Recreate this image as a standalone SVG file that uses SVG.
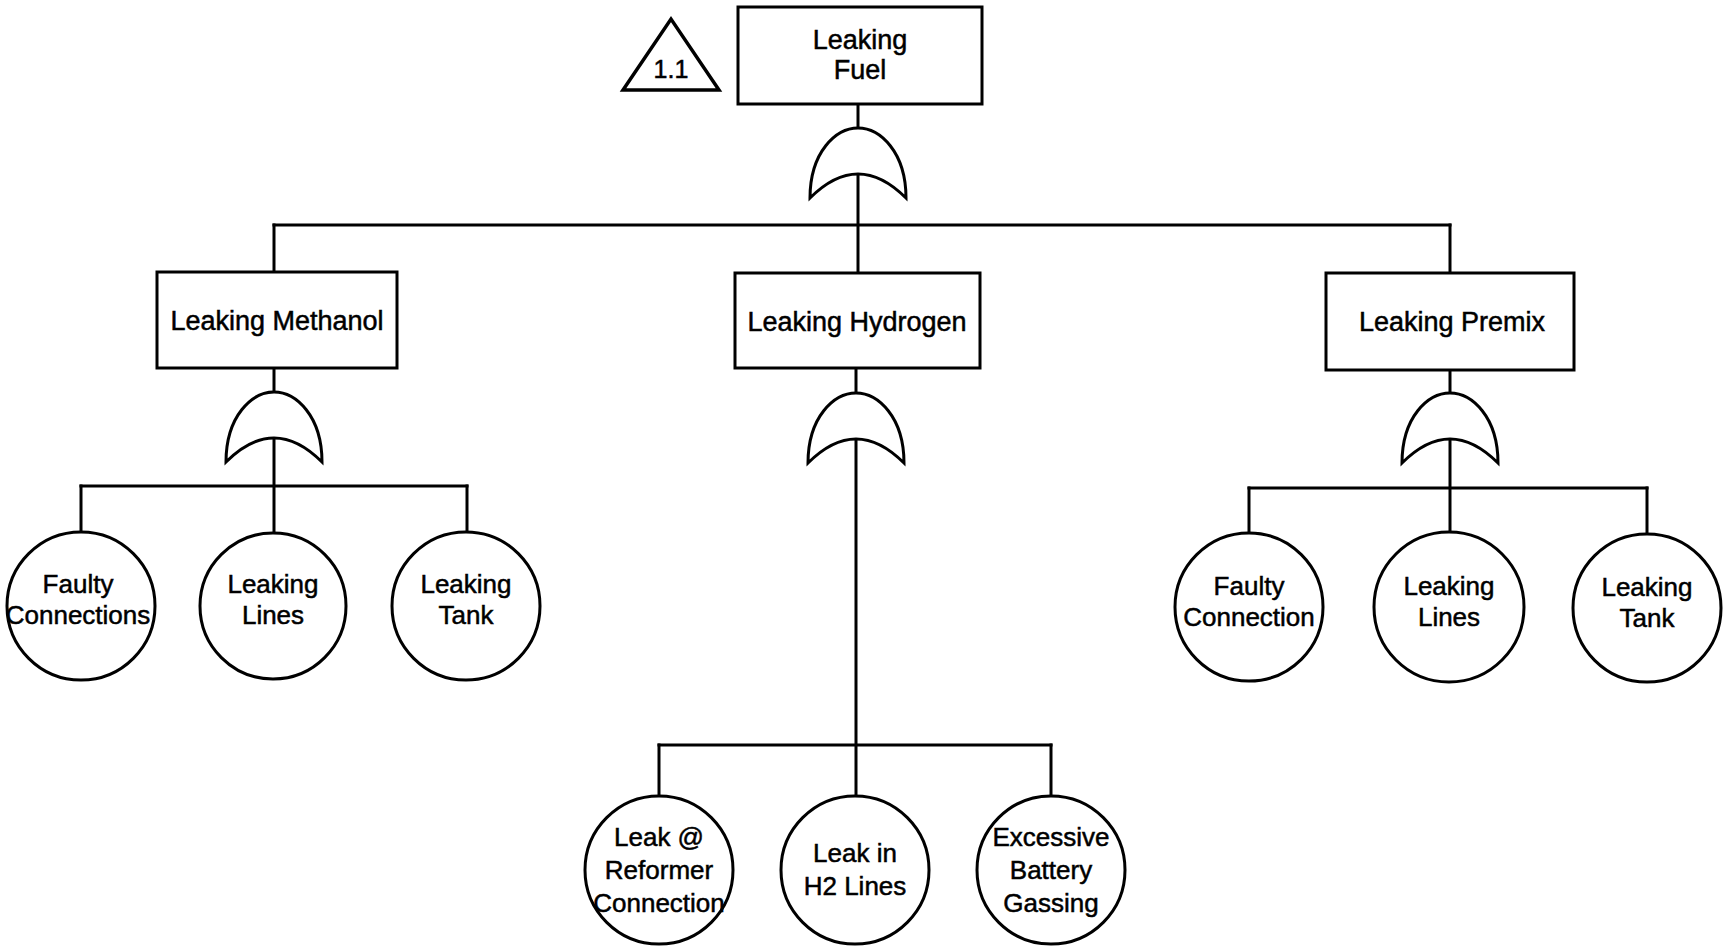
<svg xmlns="http://www.w3.org/2000/svg" xmlns:xlink="http://www.w3.org/1999/xlink" width="1726" height="951" viewBox="0 0 1726 951">
  <style>
    .box { fill: #fff; stroke: #000; stroke-width: 3; }
    .evt { fill: #fff; stroke: #000; stroke-width: 3; }
    .gate { fill: #fff; stroke: #000; stroke-width: 3; stroke-linejoin: miter; }
    .wire { fill: none; stroke: #000; stroke-width: 3; stroke-linecap: square; }
    .tri { fill: #fff; stroke: #000; stroke-width: 3.5; stroke-linejoin: miter; }
    text { font-family: "Liberation Sans", Arial, Helvetica, sans-serif; fill: #000; stroke: #000; stroke-width: 0.5; text-anchor: middle; }
    .bt { font-size: 27px; }
    .ct { font-size: 26px; }
  </style>
  <defs>
    <!-- OR gate, origin at the top tip; inner curve apex sits 46 below the tip -->
    <path id="orgate" class="gate" d="M -48 70 C -48 24, -22 0, 0 0 C 22 0, 48 24, 48 70 Q 0 22 -48 70 Z"/>
  </defs>
  <rect width="1726" height="951" fill="#fff"/>

  <!-- connectors -->
  <g id="connectors">
    <path class="wire" d="M858 104 V128"/>
    <path class="wire" d="M858 174 V273"/>
    <path class="wire" d="M274 225 H1450"/>
    <path class="wire" d="M274 225 V272"/>
    <path class="wire" d="M1450 225 V273"/>

    <path class="wire" d="M274 368 V392"/>
    <path class="wire" d="M274 438 V532"/>
    <path class="wire" d="M81 486 H467"/>
    <path class="wire" d="M81 486 V532"/>
    <path class="wire" d="M467 486 V532"/>

    <path class="wire" d="M856 368 V393"/>
    <path class="wire" d="M856 439 V795"/>
    <path class="wire" d="M659 745 H1051"/>
    <path class="wire" d="M659 745 V795"/>
    <path class="wire" d="M1051 745 V795"/>

    <path class="wire" d="M1450 370 V393"/>
    <path class="wire" d="M1450 439 V533"/>
    <path class="wire" d="M1249 488 H1647"/>
    <path class="wire" d="M1249 488 V533"/>
    <path class="wire" d="M1647 488 V533"/>
  </g>

  <!-- transfer triangle -->
  <g id="transfer-1-1">
    <polygon class="tri" points="623,90 671,19 719,90"/>
    <text class="ct" x="671" y="78" style="font-size:25px">1.1</text>
  </g>

  <!-- top event -->
  <g id="leaking-fuel">
    <rect class="box" x="738" y="7" width="244" height="97"/>
    <text class="bt" x="860" y="49">Leaking</text>
    <text class="bt" x="860" y="79">Fuel</text>
  </g>
  <g id="gate-fuel"><use xlink:href="#orgate" href="#orgate" x="858" y="128"/></g>

  <!-- intermediate events -->
  <g id="leaking-methanol">
    <rect class="box" x="157" y="272" width="240" height="96"/>
    <text class="bt" x="277" y="330">Leaking Methanol</text>
  </g>
  <g id="gate-methanol"><use xlink:href="#orgate" href="#orgate" x="274" y="392"/></g>

  <g id="leaking-hydrogen">
    <rect class="box" x="735" y="273" width="245" height="95"/>
    <text class="bt" x="857" y="331">Leaking Hydrogen</text>
  </g>
  <g id="gate-hydrogen"><use xlink:href="#orgate" href="#orgate" x="856" y="393"/></g>

  <g id="leaking-premix">
    <rect class="box" x="1326" y="273" width="248" height="97"/>
    <text class="bt" x="1452" y="331">Leaking Premix</text>
  </g>
  <g id="gate-premix"><use xlink:href="#orgate" href="#orgate" x="1450" y="393"/></g>

  <!-- methanol basic events -->
  <g id="m-faulty-connections">
    <circle class="evt" cx="81" cy="606" r="74"/>
    <text class="ct" x="78" y="593">Faulty</text>
    <text class="ct" x="78" y="624">Connections</text>
  </g>
  <g id="m-leaking-lines">
    <circle class="evt" cx="273" cy="606" r="73"/>
    <text class="ct" x="273" y="593">Leaking</text>
    <text class="ct" x="273" y="624">Lines</text>
  </g>
  <g id="m-leaking-tank">
    <circle class="evt" cx="466" cy="606" r="74"/>
    <text class="ct" x="466" y="593">Leaking</text>
    <text class="ct" x="466" y="624">Tank</text>
  </g>

  <!-- hydrogen basic events -->
  <g id="h-leak-reformer">
    <circle class="evt" cx="659" cy="870" r="74"/>
    <text class="ct" x="659" y="846">Leak @</text>
    <text class="ct" x="659" y="879">Reformer</text>
    <text class="ct" x="659" y="912">Connection</text>
  </g>
  <g id="h-leak-lines">
    <circle class="evt" cx="855" cy="870" r="74"/>
    <text class="ct" x="855" y="862">Leak in</text>
    <text class="ct" x="855" y="895">H2 Lines</text>
  </g>
  <g id="h-battery-gassing">
    <circle class="evt" cx="1051" cy="870" r="74"/>
    <text class="ct" x="1051" y="846">Excessive</text>
    <text class="ct" x="1051" y="879">Battery</text>
    <text class="ct" x="1051" y="912">Gassing</text>
  </g>

  <!-- premix basic events -->
  <g id="p-faulty-connection">
    <circle class="evt" cx="1249" cy="607" r="74"/>
    <text class="ct" x="1249" y="595">Faulty</text>
    <text class="ct" x="1249" y="626">Connection</text>
  </g>
  <g id="p-leaking-lines">
    <circle class="evt" cx="1449" cy="607" r="75"/>
    <text class="ct" x="1449" y="595">Leaking</text>
    <text class="ct" x="1449" y="626">Lines</text>
  </g>
  <g id="p-leaking-tank">
    <circle class="evt" cx="1647" cy="608" r="74"/>
    <text class="ct" x="1647" y="596">Leaking</text>
    <text class="ct" x="1647" y="627">Tank</text>
  </g>
</svg>
